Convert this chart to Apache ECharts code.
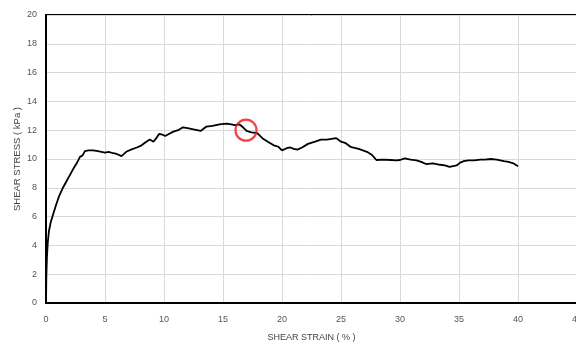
<!DOCTYPE html>
<html><head><meta charset="utf-8">
<script src="https://cdn.jsdelivr.net/npm/echarts@6/dist/echarts.min.js"></script>
<style>html,body{margin:0;padding:0;background:#fff}#c{width:576px;height:345px}</style>
</head><body><div id="c"></div>
<script>
const strain = [0,0.03,0.08,0.15,0.25,0.4,0.6,0.85,1.1,1.4,1.7,2.0,2.3,2.6,2.88,3.1,3.3,3.6,4.0,4.4,4.7,5.0,5.3,5.7,6.0,6.4,6.8,7.2,7.7,8.1,8.5,8.8,9.1,9.35,9.6,9.85,10.1,10.45,10.8,11.2,11.6,12.0,12.5,13.1,13.6,14.1,14.7,15.3,15.7,16.0,16.4,16.7,17.0,17.4,17.9,18.4,18.9,19.3,19.7,20.0,20.4,20.7,21.0,21.3,21.7,22.2,22.8,23.3,23.8,24.2,24.6,25.0,25.4,25.8,26.5,27.2,27.6,28.0,28.6,29.2,29.7,30.0,30.4,30.9,31.4,31.8,32.2,32.8,33.4,33.8,34.2,34.5,34.8,35.1,35.4,35.8,36.3,36.8,37.2,37.7,38.2,38.8,39.2,39.6,40.0];
const stress = [0,1.9,3.2,4.2,5.0,5.6,6.15,6.8,7.4,7.95,8.4,8.85,9.3,9.7,10.15,10.25,10.55,10.6,10.6,10.55,10.5,10.45,10.5,10.4,10.35,10.2,10.5,10.65,10.8,10.95,11.2,11.35,11.2,11.45,11.75,11.7,11.6,11.75,11.9,12.0,12.2,12.15,12.05,11.95,12.25,12.3,12.4,12.45,12.4,12.35,12.4,12.2,11.95,11.85,11.8,11.4,11.15,10.95,10.85,10.6,10.75,10.8,10.7,10.65,10.8,11.05,11.2,11.35,11.35,11.4,11.45,11.2,11.1,10.85,10.7,10.5,10.3,9.93,9.95,9.93,9.9,9.93,10.05,9.95,9.9,9.8,9.65,9.7,9.6,9.55,9.45,9.5,9.55,9.75,9.85,9.9,9.9,9.95,9.95,10.0,9.95,9.85,9.8,9.7,9.5];
const marker = [[16.95, 12.0]];
const xTicksMax = 45, yTicksMax = 20;

const chart = echarts.init(document.getElementById('c'));
chart.setOption({
  animation:false,
  grid:{left:46, top:15, width:531, height:288, show:true, borderColor:'#000', borderWidth:2, backgroundColor:'transparent', containLabel:false, outerBoundsMode:'none'},
  xAxis:{type:'value', min:0, max:xTicksMax, interval:5,
    name:'SHEAR STRAIN ( % )', nameLocation:'middle', nameGap:30, nameMoveOverlap:false,
    nameTextStyle:{fontFamily:'Liberation Sans', fontSize:9, color:'#444'},
    axisLine:{show:true, onZero:false, lineStyle:{color:'#000', width:2}},
    axisTick:{show:false},
    axisLabel:{fontFamily:'Liberation Sans', fontSize:9, color:'#555', margin:12},
    splitLine:{show:true, lineStyle:{color:'#d9d9d9', width:1}}},
  yAxis:{type:'value', min:0, max:yTicksMax, interval:2,
    name:'SHEAR STRESS ( kPa )', nameLocation:'middle', nameGap:24, nameRotate:90, nameMoveOverlap:false,
    nameTextStyle:{fontFamily:'Liberation Sans', fontSize:9.5, color:'#444'},
    axisLine:{show:true, lineStyle:{color:'#000', width:2}},
    axisTick:{show:false},
    axisLabel:{fontFamily:'Liberation Sans', fontSize:9, color:'#555', margin:9},
    splitLine:{show:true, lineStyle:{color:'#d9d9d9', width:1}}},
  series:[
    {type:'line', data:strain.map((v,i)=>[v,stress[i]]), showSymbol:false, symbol:'none',
     lineStyle:{color:'#000', width:1.8}, z:3},
    {type:'scatter', data:marker, symbol:'circle', symbolSize:21,
     itemStyle:{color:'transparent', borderColor:'#e8141b', borderWidth:2.2}, z:5}
  ]
});
</script></body></html>
